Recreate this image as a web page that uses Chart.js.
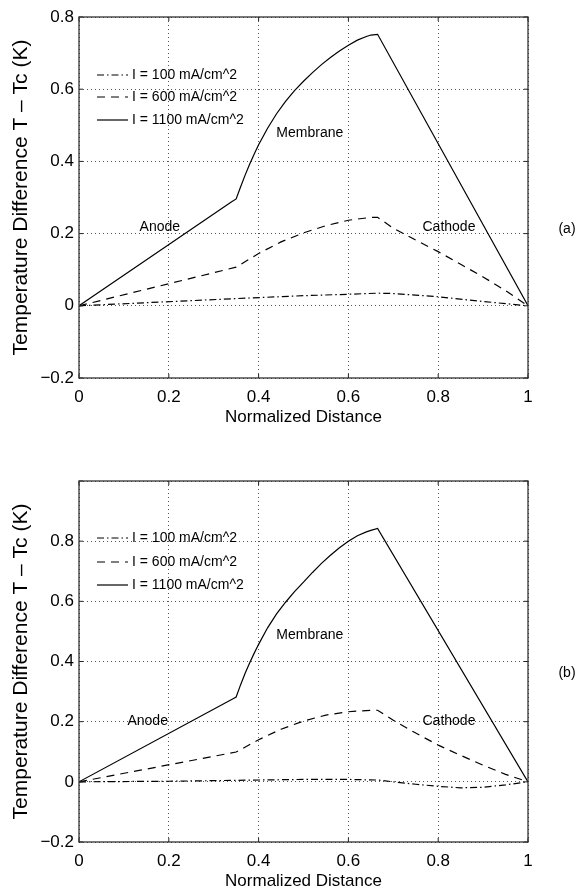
<!DOCTYPE html>
<html>
<head>
<meta charset="utf-8">
<script src="https://cdn.jsdelivr.net/npm/chart.js@4/dist/chart.umd.min.js"></script>
<style>
body { margin: 0; background: #fff; width: 583px; height: 893px; overflow: hidden; position: relative; }
canvas { position: absolute; left: 0; }
</style>
</head>
<body>
<canvas id="chartA" width="583" height="440" style="top:0"></canvas>
<canvas id="chartB" width="583" height="453" style="top:440px"></canvas>
<script>
// labels
const legendLabels = ['I = 100 mA/cm^2', 'I = 600 mA/cm^2', 'I = 1100 mA/cm^2'];
const regionLabels = ['Anode', 'Membrane', 'Cathode'];
const xTitle = 'Normalized Distance';
const yTitle = 'Temperature Difference T \u2013 Tc (K)';

// panel (a)
const aX100 = [0, 0.35, 0.5, 0.6, 0.665, 0.7, 0.8, 0.9, 1];
const aY100 = [0, 0.02, 0.028, 0.032, 0.035, 0.034, 0.025, 0.012, 0];
const aX600 = [0, 0.35, 0.4, 0.45, 0.5, 0.55, 0.6, 0.65, 0.665, 0.7, 0.75, 0.8, 0.85, 0.9, 0.95, 1];
const aY600 = [0, 0.107, 0.145, 0.177, 0.202, 0.222, 0.237, 0.245, 0.245, 0.215, 0.182, 0.15, 0.115, 0.08, 0.042, 0];
const aX1100 = [0, 0.34, 0.35, 0.36, 0.37, 0.38, 0.39, 0.4, 0.42, 0.44, 0.46, 0.48, 0.5, 0.52, 0.54, 0.56, 0.58, 0.6, 0.62, 0.64, 0.65, 0.665, 1];
const aY1100 = [0, 0.288, 0.296, 0.33, 0.362, 0.392, 0.42, 0.446, 0.492, 0.532, 0.566, 0.596, 0.622, 0.646, 0.668, 0.688, 0.706, 0.722, 0.736, 0.746, 0.75, 0.752, 0];

// panel (b)
const bX100 = [0, 0.2, 0.35, 0.5, 0.6, 0.665, 0.7, 0.75, 0.8, 0.85, 0.9, 0.95, 1];
const bY100 = [0, 0.002, 0.005, 0.008, 0.008, 0.006, 0, -0.008, -0.015, -0.02, -0.018, -0.01, 0];
const bX600 = [0, 0.35, 0.4, 0.45, 0.5, 0.55, 0.6, 0.65, 0.665, 0.7, 0.75, 0.8, 0.85, 0.9, 0.95, 1];
const bY600 = [0, 0.099, 0.14, 0.175, 0.202, 0.222, 0.233, 0.238, 0.238, 0.205, 0.162, 0.122, 0.088, 0.055, 0.025, 0];
const bX1100 = [0, 0.34, 0.35, 0.36, 0.37, 0.38, 0.39, 0.4, 0.42, 0.44, 0.46, 0.48, 0.5, 0.52, 0.54, 0.56, 0.58, 0.6, 0.62, 0.64, 0.65, 0.665, 1];
const bY1100 = [0, 0.274, 0.282, 0.323, 0.361, 0.395, 0.427, 0.457, 0.512, 0.558, 0.597, 0.632, 0.664, 0.696, 0.726, 0.753, 0.778, 0.8, 0.818, 0.831, 0.836, 0.842, 0];

const FONT = 'Liberation Sans, Arial, Helvetica, sans-serif';
const dashes = [[7, 3, 1.5, 3], [8, 6], []];

function pts(xs, ys) {
    return xs.map((x, i) => ({ x: x, y: ys[i] }));
}

function fmt(v) {
    var r = Math.round(v * 10) / 10;
    if (r < 0) return '\u2212' + Math.abs(r);
    return String(r);
}

function line(ctx, x1, y1, x2, y2) {
    ctx.beginPath();
    ctx.moveTo(x1, y1);
    ctx.lineTo(x2, y2);
    ctx.stroke();
}

// box, inward ticks, legend, region names and panel tag
const decor = {
    id: 'decor',
    afterDraw(chart, args, opts) {
        const ctx = chart.ctx;
        const a = chart.chartArea;
        const sx = chart.scales.x, sy = chart.scales.y;
        ctx.save();
        ctx.strokeStyle = '#222';
        ctx.lineWidth = 1;
        ctx.setLineDash([]);
        sx.ticks.forEach(t => {
            const p = sx.getPixelForValue(t.value);
            line(ctx, p, a.bottom, p, a.bottom - 4);
            line(ctx, p, a.top, p, a.top + 4);
        });
        sy.ticks.forEach(t => {
            const p = sy.getPixelForValue(t.value);
            line(ctx, a.left, p, a.left + 4, p);
            line(ctx, a.right, p, a.right - 4, p);
        });
        ctx.strokeStyle = '#333';
        ctx.lineWidth = 1.3;
        ctx.strokeRect(a.left, a.top, a.right - a.left, a.bottom - a.top);

        // legend
        ctx.font = '14px ' + FONT;
        ctx.fillStyle = '#000';
        ctx.textBaseline = 'middle';
        ctx.textAlign = 'left';
        chart.data.datasets.forEach((ds, i) => {
            const y = a.top + opts.legendRows[i];
            ctx.strokeStyle = '#000';
            ctx.lineWidth = 1.2;
            ctx.setLineDash(ds.borderDash);
            line(ctx, a.left + 18, y, a.left + 49, y);
            ctx.setLineDash([]);
            ctx.fillText(ds.label, a.left + 53, y);
        });

        // region names
        ctx.textAlign = 'center';
        regionLabels.forEach((t, i) => {
            const p = opts.regions[i];
            ctx.fillText(t, sx.getPixelForValue(p[0]), sy.getPixelForValue(p[1]));
        });

        ctx.fillText(opts.tag, 567, sy.getPixelForValue(opts.tagY));
        ctx.restore();
    }
};

function makeChart(id, series, yMax, cfg) {
    const datasets = series.map((s, i) => ({
        label: legendLabels[i],
        data: s,
        borderColor: '#000',
        borderWidth: 1.2,
        borderDash: dashes[i],
        pointRadius: 0,
        tension: 0,
        fill: false
    }));
    return new Chart(document.getElementById(id), {
        type: 'line',
        data: { datasets: datasets },
        options: {
            responsive: false,
            animation: false,
            layout: { padding: { left: 0, right: 55, top: cfg.top, bottom: 0 } },
            plugins: {
                legend: { display: false },
                tooltip: { enabled: false },
                decor: cfg.decor
            },
            scales: {
                x: {
                    type: 'linear',
                    min: 0,
                    max: 1,
                    ticks: {
                        stepSize: 0.2,
                        padding: 9,
                        color: '#000',
                        font: { family: FONT, size: 17 },
                        callback: v => fmt(v)
                    },
                    grid: { color: '#555', lineWidth: 1, drawTicks: false },
                    border: { display: false, dash: [1, 3] },
                    title: {
                        display: true,
                        text: xTitle,
                        color: '#000',
                        font: { family: FONT, size: 17 },
                        padding: { top: 0, bottom: cfg.xTitlePad }
                    },
                    afterFit: s => { s.height = cfg.xHeight; }
                },
                y: {
                    type: 'linear',
                    min: -0.2,
                    max: yMax,
                    ticks: {
                        stepSize: 0.2,
                        padding: 5,
                        color: '#000',
                        font: { family: FONT, size: 17 },
                        callback: v => (v > 0.95 ? '' : fmt(v))
                    },
                    grid: { color: '#555', lineWidth: 1, drawTicks: false },
                    border: { display: false, dash: [1, 3] },
                    title: {
                        display: true,
                        text: yTitle,
                        color: '#000',
                        font: { family: FONT, size: 21 },
                        padding: { top: 9, bottom: 0 }
                    },
                    afterFit: s => { s.width = 79; }
                }
            }
        },
        plugins: [decor]
    });
}

makeChart('chartA', [pts(aX100, aY100), pts(aX600, aY600), pts(aX1100, aY1100)], 0.8, {
    top: 17, xHeight: 62, xTitlePad: 12,
    decor: {
        legendRows: [58, 80, 103],
        regions: [[0.18, 0.219], [0.514, 0.479], [0.824, 0.219]],
        tag: '(a)', tagY: 0.211
    }
});

makeChart('chartB', [pts(bX100, bY100), pts(bX600, bY600), pts(bX1100, bY1100)], 1.0, {
    top: 41, xHeight: 51, xTitlePad: 1,
    decor: {
        legendRows: [57, 81, 104],
        regions: [[0.153, 0.201], [0.514, 0.486], [0.824, 0.201]],
        tag: '(b)', tagY: 0.36
    }
});
</script>
</body>
</html>
